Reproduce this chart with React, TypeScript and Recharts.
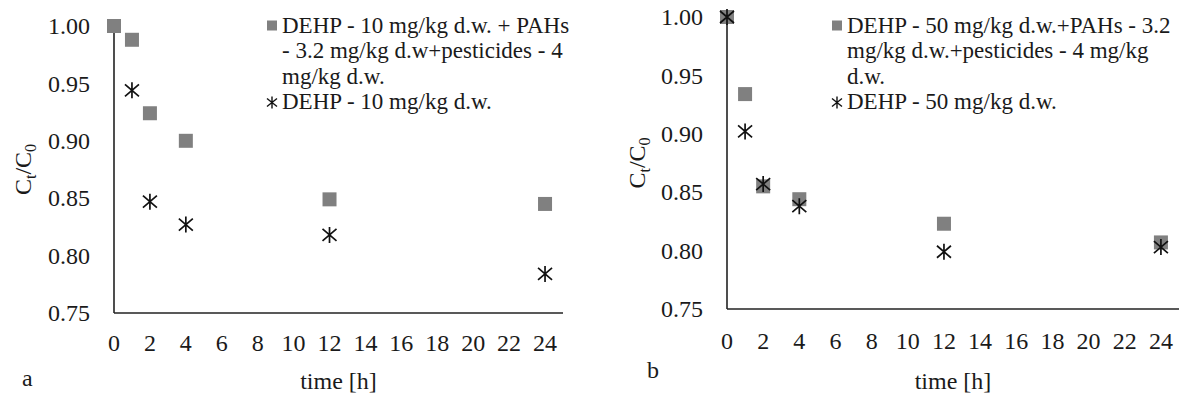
import React from 'react';
import { ScatterChart, Scatter, XAxis, YAxis, Legend } from 'recharts';

const FONT = 'Liberation Serif';
const TEXT = '#1a1a1a';
const AXIS = '#222222';
const SQUARE = '#808080';

// tick labels
const timeTicks = [0, 2, 4, 6, 8, 10, 12, 14, 16, 18, 20, 22, 24];
const ratioTicks = [0.75, 0.8, 0.85, 0.9, 0.95, 1.0];

// panel a
const timesMixA = [0, 1, 2, 4, 12, 24];
const valuesMixA = [1.0, 0.988, 0.924, 0.9, 0.849, 0.845];
const timesDehpA = [1, 2, 4, 12, 24];
const valuesDehpA = [0.944, 0.847, 0.827, 0.818, 0.784];

// panel b
const timesMixB = [0, 1, 2, 4, 12, 24];
const valuesMixB = [1.0, 0.934, 0.855, 0.844, 0.823, 0.807];
const timesDehpB = [0, 1, 2, 4, 12, 24];
const valuesDehpB = [1.0, 0.902, 0.857, 0.838, 0.799, 0.803];

// legend text (lines as wrapped in the figure)
const legendMixA = ['DEHP - 10 mg/kg d.w. + PAHs', '- 3.2 mg/kg d.w+pesticides - 4', 'mg/kg d.w.'];
const legendDehpA = 'DEHP - 10 mg/kg d.w.';
const legendMixB = ['DEHP - 50 mg/kg d.w.+PAHs - 3.2', 'mg/kg d.w.+pesticides - 4 mg/kg', 'd.w.'];
const legendDehpB = 'DEHP - 50 mg/kg d.w.';

const toPoints = (ts: number[], vs: number[]) => ts.map((t, i) => ({ t, v: vs[i] }));

const SquareShape = (props: any) => {
  const { cx, cy } = props;
  if (cx == null || cy == null) return null;
  return <rect x={cx - 7} y={cy - 7} width={14} height={14} fill={SQUARE} />;
};

const StarShape = (props: any) => {
  const { cx, cy } = props;
  if (cx == null || cy == null) return null;
  return (
    <path
      d={`M${cx},${cy - 8}L${cx},${cy + 8}M${cx - 7},${cy - 6}L${cx + 7},${cy + 6}M${cx - 7},${cy + 6}L${cx + 7},${cy - 6}`}
      stroke="#111"
      strokeWidth={1.7}
      fill="none"
    />
  );
};

const LINE_H = 25.5;

const LegendBox = ({ lines, single }: { lines: string[]; single: string }) => (
  <svg width={360} height={112} style={{ display: 'block', overflow: 'visible' }}>
    <rect x={0} y={8.5} width={10} height={10} fill={SQUARE} />
    {lines.map((l, i) => (
      <text key={i} x={15} y={20.5 + i * LINE_H} fontFamily={FONT} fontSize={23} fill={TEXT}>
        {l}
      </text>
    ))}
    <path
      d={`M5,${84.5}L5,${96.5}M0,${86.5}L10,${94.5}M0,${94.5}L10,${86.5}`}
      stroke="#111"
      strokeWidth={1.4}
      fill="none"
    />
    <text x={15} y={20.5 + lines.length * LINE_H} fontFamily={FONT} fontSize={23} fill={TEXT}>
      {single}
    </text>
  </svg>
);

const yLabel = (dx: number) => (props: any) => {
  const vb = props.viewBox || { x: 0, y: 0, width: 0, height: 0 };
  const x = vb.x + dx;
  const y = vb.y + vb.height / 2;
  return (
    <text
      transform={`translate(${x},${y}) rotate(-90)`}
      textAnchor="middle"
      fontFamily={FONT}
      fontSize={24}
      fill={TEXT}
    >
      C<tspan fontSize={16} dy={5}>t</tspan>
      <tspan dy={-5}>/C</tspan>
      <tspan fontSize={16} dy={5}>0</tspan>
    </text>
  );
};

const xLabel = (dy: number) => (props: any) => {
  const vb = props.viewBox || { x: 0, y: 0, width: 0, height: 0 };
  return (
    <text
      x={vb.x + vb.width / 2}
      y={vb.y + dy}
      textAnchor="middle"
      fontFamily={FONT}
      fontSize={24}
      fill={TEXT}
    >
      time [h]
    </text>
  );
};

const XTick = (props: any) => (
  <text
    x={props.x}
    y={props.y}
    dy="0.71em"
    textAnchor="middle"
    fontFamily={FONT}
    fontSize={24}
    fill={TEXT}
  >
    {props.payload.value}
  </text>
);

const YTick = (props: any) => (
  <text
    x={props.x}
    y={props.y}
    dy="0.34em"
    textAnchor="end"
    fontFamily={FONT}
    fontSize={24}
    fill={TEXT}
  >
    {Number(props.payload.value).toFixed(2)}
  </text>
);

type PanelProps = {
  width: number;
  margin: { top: number; right: number; bottom: number; left: number };
  yWidth: number;
  xTickMargin: number;
  yLabelDx: number;
  xLabelDy: number;
  mix: { t: number; v: number }[];
  dehp: { t: number; v: number }[];
  mixName: string[];
  dehpName: string;
  legendLeft: number;
};

const Panel = (p: PanelProps) => (
  <ScatterChart width={p.width} height={397} margin={p.margin}>
    <XAxis
      type="number"
      dataKey="t"
      domain={[0, 25]}
      ticks={timeTicks}
      interval={0}
      tickLine={false}
      tickSize={0}
      tickMargin={p.xTickMargin}
      axisLine={{ stroke: AXIS, strokeWidth: 1.6 }}
      tick={XTick}
      height={40}
      label={xLabel(p.xLabelDy)}
    />
    <YAxis
      type="number"
      dataKey="v"
      domain={[0.75, 1]}
      ticks={ratioTicks}
      interval={0}
      tickLine={false}
      tickSize={0}
      tickMargin={24}
      axisLine={{ stroke: AXIS, strokeWidth: 1.6 }}
      tick={YTick}
      width={p.yWidth}
      label={yLabel(p.yLabelDx)}
    />
    <Legend
      layout="vertical"
      align="center"
      verticalAlign="middle"
      wrapperStyle={{ left: p.legendLeft, top: 11.5, width: 360, height: 112 }}
      content={() => <LegendBox lines={p.mixName} single={p.dehpName} />}
    />
    <Scatter name={p.mixName.join(' ')} data={p.mix} shape={SquareShape} isAnimationActive={false} />
    <Scatter name={p.dehpName} data={p.dehp} shape={StarShape} isAnimationActive={false} />
  </ScatterChart>
);

export default function App() {
  return (
    <div
      style={{
        position: 'absolute',
        left: 0,
        top: 0,
        width: 1185,
        height: 397,
        background: '#fff',
        overflow: 'hidden',
      }}
    >
      <div style={{ position: 'absolute', left: 0, top: 0 }}>
        <Panel
          width={600}
          margin={{ top: 26, right: 37, bottom: 44, left: 0 }}
          yWidth={114}
          xTickMargin={21}
          yLabelDx={31}
          xLabelDy={76}
          mix={toPoints(timesMixA, valuesMixA)}
          dehp={toPoints(timesDehpA, valuesDehpA)}
          mixName={legendMixA}
          dehpName={legendDehpA}
          legendLeft={267}
        />
      </div>
      <div style={{ position: 'absolute', left: 600, top: 0 }}>
        <Panel
          width={585}
          margin={{ top: 17, right: 6, bottom: 48, left: 0 }}
          yWidth={127}
          xTickMargin={23}
          yLabelDx={45}
          xLabelDy={80}
          mix={toPoints(timesMixB, valuesMixB)}
          dehp={toPoints(timesDehpB, valuesDehpB)}
          mixName={legendMixB}
          dehpName={legendDehpB}
          legendLeft={232}
        />
      </div>
      <svg
        width={1185}
        height={397}
        style={{ position: 'absolute', left: 0, top: 0, pointerEvents: 'none' }}
      >
        <text x={22} y={386} fontFamily={FONT} fontSize={24} fill={TEXT}>
          a
        </text>
        <text x={647} y={378} fontFamily={FONT} fontSize={24} fill={TEXT}>
          b
        </text>
      </svg>
    </div>
  );
}
